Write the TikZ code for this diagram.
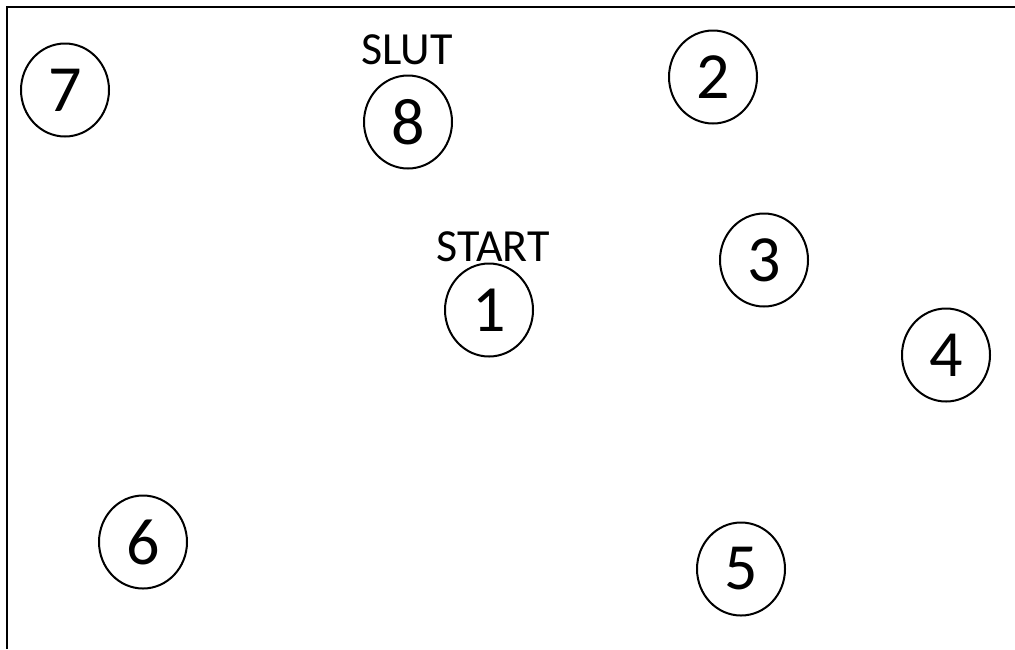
\documentclass[tikz,border=0pt]{standalone}
\usepackage{fontspec}
\setmainfont{Carlito}
\usetikzlibrary{shapes.geometric}
\tikzset{
    stop/.style={
        ellipse,
        draw=black,
        line width=1pt,
        minimum width=44pt,
        minimum height=46.5pt,
        inner sep=0pt,
        font=\fontsize{33}{33}\selectfont
    },
    stoplabel/.style={
        font=\fontsize{23}{23}\selectfont
    },
    frame/.style={
        line width=1.2pt
    }
}
\begin{document}
\begin{tikzpicture}[x=0.5pt, y=-0.5pt]
      \useasboundingbox (0,0) rectangle (1015,649);
      \draw[frame] (7,649) -- (7,7) -- (1015,7);

      \node[stop] (n1) at (489, 310) {1};
      \node[stop] (n2) at (713, 77)  {2};
      \node[stop] (n3) at (764, 260) {3};
      \node[stop] (n4) at (946, 355) {4};
      \node[stop] (n5) at (741, 569) {5};
      \node[stop] (n6) at (143, 542) {6};
      \node[stop] (n7) at (65, 90)   {7};
      \node[stop] (n8) at (408, 122) {8};

      \node[stoplabel] (start) at (493, 247) {START};
      \node[stoplabel] (slut)  at (407, 50)  {SLUT};
    \end{tikzpicture}
\end{document}
